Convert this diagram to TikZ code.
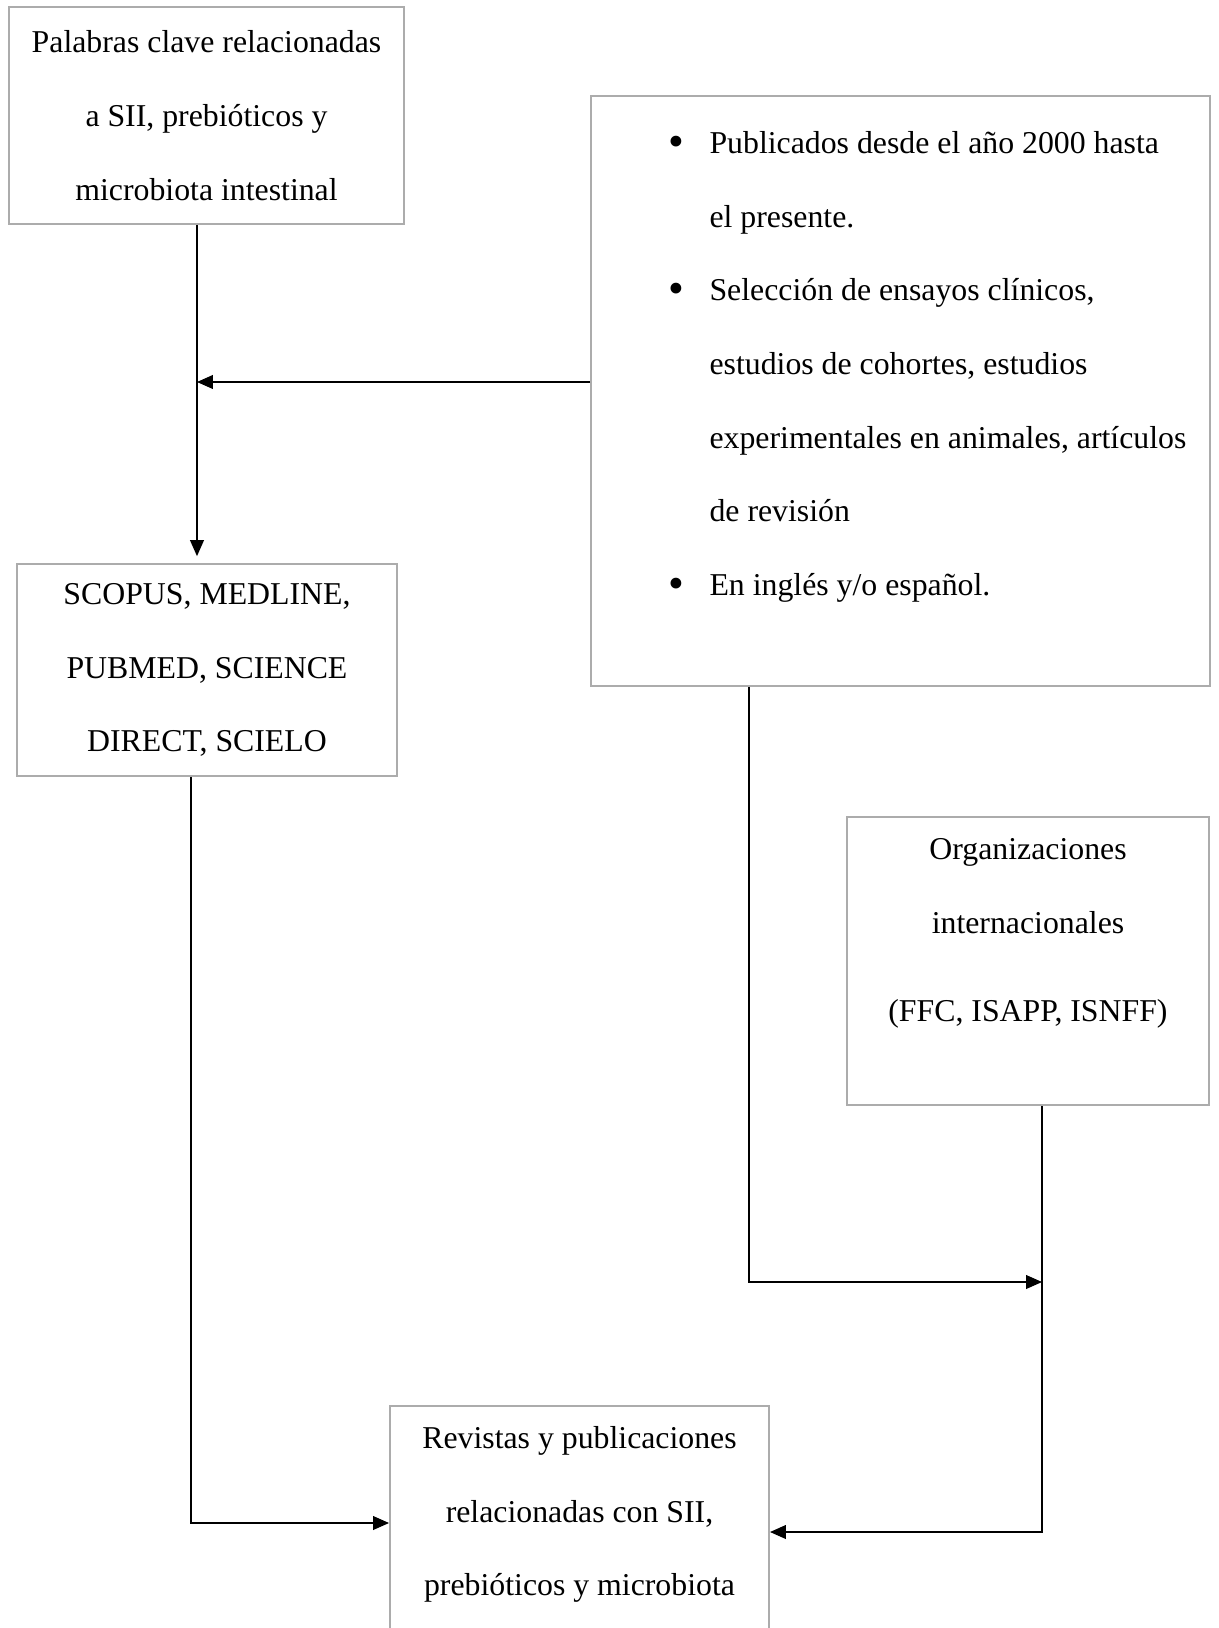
\documentclass[tikz,border=0pt]{standalone}
\usepackage{fontspec}
\setmainfont{Liberation Serif}
\usetikzlibrary{arrows.meta}
\newcommand{\pxl}{0.3774pt}
\newcommand{\vineta}{\llap{\raisebox{-1pt}{\fontsize{17pt}{0pt}\selectfont\textbullet}\hspace{9.5pt}}}
\tikzset{
	caja/.style 2 args={draw=gray!65,line width=0.75pt,minimum width={#1*\pxl},minimum height={#2*\pxl},inner sep=0pt,align=center},
	texto/.style={inner sep=0pt},
	flecha/.style={draw=black,line width=0.5pt,-{Triangle[length=6pt,width=5.2pt]}}
}
\begin{document}
\begin{tikzpicture}[x=\pxl,y=-\pxl,font=\fontsize{12pt}{27.8pt}\selectfont]
						\useasboundingbox (0,0) rectangle (1218,1628);

						\node [caja={395}{217}] (palabras) at (206.5,115.5) {Palabras clave relacionadas\\ a SII, prebióticos y\\ microbiota intestinal};
						\node [caja={380}{212}] (bases) at (207,670) {SCOPUS, MEDLINE,\\ PUBMED, SCIENCE\\ DIRECT, SCIELO};
						\node [caja={619}{590}] (criterios) at (900.5,391) {};
						\node [caja={362}{288}] (org) at (1028,961) {};
						\node [caja={379}{300}] (revistas) at (579.5,1556) {};

						\node [texto,anchor=north west,align=left] (criterios-txt) at (709,131) {\vineta Publicados desde el año 2000 hasta\\ el presente.\\ \vineta Selección de ensayos clínicos,\\ estudios de cohortes, estudios\\ experimentales en animales, artículos\\ de revisión\\ \vineta En inglés y/o español.};
						\node [texto,anchor=north,align=center] (org-txt) at (1028,838) {Organizaciones\\ internacionales\\[5.5pt] (FFC, ISAPP, ISNFF)};
						\node [texto,anchor=north,align=center] (revistas-txt) at (579.5,1426) {Revistas y publicaciones\\ relacionadas con SII,\\ prebióticos y microbiota};

						\coordinate (c1) at (197,382);
						\coordinate (c2) at (191,1523);
						\coordinate (c3) at (749,1282);
						\coordinate (c4) at (1042,1282);
						\coordinate (c5) at (1042,1532);

						\draw [flecha,shorten >=2.6pt] (palabras.south -| c1) -- (bases.north -| c1);
						\draw [flecha] (criterios.west |- c1) -- (c1);
						\draw [flecha] (bases.south -| c2) -- (c2) -- (revistas.west |- c2);
						\draw [flecha] (criterios.south -| c3) -- (c3) -- (c4);
						\draw [flecha] (org.south -| c5) -- (c5) -- (revistas.east |- c5);
					\end{tikzpicture}
\end{document}
